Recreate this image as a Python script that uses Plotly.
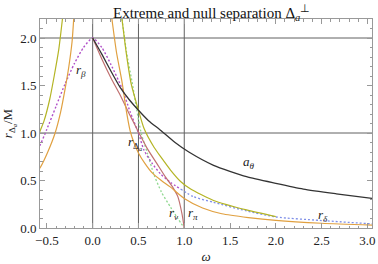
import plotly.graph_objects as go

# ---- data ----
black_x = [0, 0.1, 0.2, 0.3, 0.4, 0.5, 0.61, 0.74, 0.9, 1.05, 1.32, 1.68, 2.0, 2.3, 2.66, 3.1]
black_y = [2.0, 1.83, 1.65, 1.48, 1.35, 1.24, 1.13, 1.03, 0.9, 0.80, 0.66, 0.54, 0.47, 0.41, 0.36, 0.305]

olive_l_x = [-0.6, -0.57, -0.53, -0.47, -0.42, -0.37, -0.33]
olive_l_y = [0.95, 1.03, 1.13, 1.35, 1.6, 1.88, 2.2]
olive_r_x = [0.32, 0.37, 0.42, 0.5, 0.56, 0.67, 0.75, 0.85, 0.96, 1.07, 1.32, 1.68, 2.0]
olive_r_y = [2.2, 1.82, 1.52, 1.24, 1.05, 0.85, 0.74, 0.61, 0.49, 0.41, 0.29, 0.19, 0.12]

orange_l_x = [-0.6, -0.57, -0.49, -0.41, -0.35, -0.30, -0.26, -0.225, -0.207]
orange_l_y = [0.6, 0.64, 0.8, 1.0, 1.22, 1.47, 1.7, 1.96, 2.2]
orange_r_x = [0.21, 0.26, 0.32, 0.37, 0.41, 0.45, 0.5, 0.57, 0.65, 0.75, 0.85, 1.0, 1.2, 1.41, 1.7, 2.0, 2.5, 3.05]
orange_r_y = [2.2, 1.85, 1.54, 1.22, 1.02, 0.9, 0.79, 0.68, 0.58, 0.5, 0.43, 0.31, 0.21, 0.15, 0.11, 0.08, 0.05, 0.03]

red_x = [0, 0.1, 0.2, 0.3, 0.4, 0.49, 0.6, 0.7, 0.8, 0.88, 0.93, 0.975, 1.0]
red_y = [2.0, 1.78, 1.58, 1.4, 1.2, 1.03, 0.83, 0.68, 0.53, 0.42, 0.33, 0.15, 0.0]

purple_x = [-0.6, -0.57, -0.5, -0.4, -0.3, -0.2, -0.1, 0, 0.1, 0.2, 0.32, 0.41, 0.5, 0.56, 0.65, 0.74, 0.85, 0.96]
purple_y = [0.83, 0.88, 1.04, 1.28, 1.52, 1.73, 1.9, 2.0, 1.9, 1.72, 1.47, 1.22, 1.0, 0.82, 0.68, 0.57, 0.48, 0.41]

green_x = [0.32, 0.37, 0.43, 0.48, 0.53, 0.6, 0.67, 0.75, 0.85, 0.93, 1.0]
green_y = [2.2, 1.85, 1.54, 1.25, 1.0, 0.78, 0.56, 0.38, 0.22, 0.1, 0.0]

blue_x = [0.96, 1.1, 1.32, 1.68, 2.0, 2.48, 3.1]
blue_y = [0.41, 0.33, 0.27, 0.18, 0.116, 0.08, 0.04]

grid_x = [0, 0.5, 1.0]
grid_y = [1.0, 2.0]

labels = [
    ("<i>r</i><sub><i>β</i></sub>", -0.13, 1.66),
    ("<i>a</i><sub><i>θ</i></sub>", 1.71, 0.69),
    ("<i>r</i><sub>Δ<sub><i>a</i></sub></sub>", 0.46, 0.9),
    ("<i>r</i><sub><i>ν</i></sub>", 0.89, 0.15),
    ("<i>r</i><sub><i>π</i></sub>", 1.10, 0.15),
    ("<i>r</i><sub><i>δ</i></sub>", 2.51, 0.13),
]

SERIF = "Liberation Serif, Times New Roman, serif"

fig = go.Figure()

def add(x, y, color, dash="solid", width=1.2):
    fig.add_trace(go.Scatter(x=x, y=y, mode="lines",
                             line=dict(color=color, width=width, dash=dash, shape="spline", smoothing=0.6),
                             hoverinfo="skip", showlegend=False))

for gx in grid_x:
    fig.add_vline(x=gx, line=dict(color="#606060", width=1), layer="below")
for gy in grid_y:
    fig.add_hline(y=gy, line=dict(color="#606060", width=1), layer="below")

add(blue_x, blue_y, "#7f8fe8", dash="2px,2px", width=1.3)
add(green_x, green_y, "#90d890", dash="2px,2px", width=1.3)
add(purple_x, purple_y, "#b050c8", dash="2px,2px", width=1.4)
add(red_x, red_y, "#c07070")
add(orange_l_x, orange_l_y, "#e0a040")
add(orange_r_x, orange_r_y, "#e0a040")
add(olive_l_x, olive_l_y, "#b4b424")
add(olive_r_x, olive_r_y, "#b4b424")
add(black_x, black_y, "#333333", width=1.3)

for txt, lx, ly in labels:
    fig.add_annotation(x=lx, y=ly, text=txt, showarrow=False,
                       font=dict(family=SERIF, size=13, color="#222"))

axis_common = dict(
    showgrid=False, zeroline=False, showline=True, linecolor="#999", linewidth=1, mirror="ticks",
    ticks="inside", ticklen=5, tickcolor="#999", tickwidth=1, automargin=False,
    tickfont=dict(family=SERIF, size=13, color="#222"),
)

fig.update_layout(
    width=378, height=264,
    margin=dict(l=40, r=6, t=19, b=36),
    paper_bgcolor="white", plot_bgcolor="white",
    title=dict(text="Extreme and null separation Δ<sub><i>a</i></sub><sup>⊥</sup>",
               x=0.56, xanchor="center", y=0.972, yanchor="top",
               font=dict(family=SERIF, size=15, color="#111")),
    xaxis=dict(range=[-0.575, 3.05], dtick=0.5, tick0=0, tickformat=".1f",
               minor=dict(ticks="inside", ticklen=2.5, dtick=0.1, tickcolor="#999", showgrid=False),
               title=dict(text="<i>ω</i>", font=dict(family=SERIF, size=13, color="#222"), standoff=10),
               **axis_common),
    yaxis=dict(range=[0, 2.2], dtick=0.5, tick0=0, tickformat=".1f",
               minor=dict(ticks="inside", ticklen=2.5, dtick=0.1, tickcolor="#999", showgrid=False),
               title=dict(text="<i>r</i><sub>Δ<sub><i>a</i></sub></sub>/M",
                          font=dict(family=SERIF, size=13, color="#222"), standoff=4),
               **axis_common),
)

fig.write_html("out.html", config={"displayModeBar": False},
               post_script="document.body.style.margin='0px';document.body.style.overflow='hidden';")
